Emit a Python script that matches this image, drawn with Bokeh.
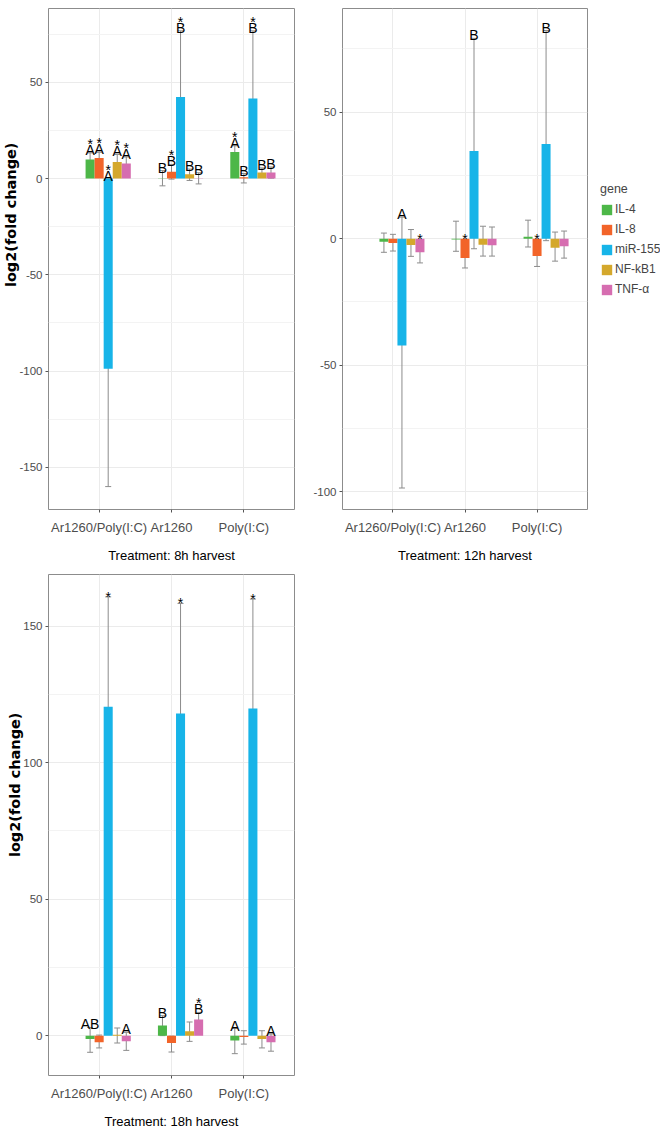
import math
from bokeh.plotting import figure
from bokeh.models import (ColumnDataSource, Range1d, FactorRange, FixedTicker, Whisker,
                          TeeHead, Legend, LegendItem, Title)
from bokeh.transform import dodge
from bokeh.layouts import column, row
from bokeh.core.properties import value
from bokeh.embed import file_html
from bokeh.resources import INLINE

# ---------------- data ----------------
treatments = ["Ar1260/Poly(I:C)", "Ar1260", "Poly(I:C)"]
genes = ["IL-4", "IL-8", "miR-155", "NF-kB1", "TNF-\u03b1"]
colors = ["#4db748", "#f26429", "#17b4e8", "#d4a82c", "#d66db0"]

# 8h harvest (rows: genes, cols: treatments)
h8_mean = [[9.9, 0.2, 13.8], [10.7, 3.5, 0.6], [-98.8, 42.4, 41.5], [8.6, 2.2, 3.1], [7.8, 0.2, 3.1]]
h8_low = [[6.4, -3.8, 10.6], [7.8, -0.3, -2.3], [-160.0, 7.4, 6.0], [4.7, -1.0, 0.7], [4.4, -2.8, 0.2]]
h8_high = [[13.3, 4.1, 17.0], [13.6, 7.3, 2.6], [-35.7, 76.7, 76.7], [12.5, 4.9, 5.5], [11.2, 3.0, 6.0]]
h8_letters = [["A", "B", "A"], ["A", "B", "B"], ["A", "B", "B"], ["A", "B", "B"], ["A", "B", "B"]]
h8_stars = [["*", "", "*"], ["*", "*", ""], ["*", "*", "*"], ["*", "", ""], ["*", "", ""]]

# 12h harvest
h12_mean = [[-1.2, -0.3, 0.7], [-1.7, -7.7, -6.9], [-42.3, 34.7, 37.4], [-2.5, -2.4, -3.6], [-5.4, -2.6, -3.0]]
h12_low = [[-5.4, -5.0, -3.3], [-4.9, -11.6, -11.0], [-98.6, -4.0, -0.8], [-7.0, -6.9, -8.9], [-9.6, -6.9, -7.7]]
h12_high = [[2.2, 6.9, 7.3], [1.7, -3.8, -2.8], [8.5, 79.2, 82.3], [3.6, 4.9, 2.6], [-1.5, 4.6, 3.0]]
h12_letters = [["", "", ""], ["", "", ""], ["A", "B", "B"], ["", "", ""], ["", "", ""]]
h12_stars = [["", "", ""], ["", "*", "*"], ["", "", ""], ["", "", ""], ["*", "", ""]]

# 18h harvest
h18_mean = [[-1.2, 3.7, -1.8], [-2.4, -2.7, -0.5], [120.5, 118.0, 119.8], [0.3, 1.6, -1.2], [-2.1, 5.9, -2.4]]
h18_low = [[-6.1, 0.0, -6.6], [-4.5, -6.0, -3.1], [66.5, 63.7, 66.2], [-2.7, -2.1, -4.5], [-5.4, 2.2, -5.7]]
h18_high = [[3.0, 7.3, 2.6], [0.2, -0.2, 1.8], [160.7, 158.3, 159.9], [2.8, 5.0, 1.8], [1.2, 8.5, 0.6]]
h18_letters = [["AB", "B", "A"], ["", "", ""], ["", "", ""], ["", "", ""], ["A", "B", "A"]]
h18_stars = [["", "", ""], ["", "", ""], ["*", "*", "*"], ["", "", ""], ["", "*", ""]]

y_label = "log2(fold change)"
# --------------------------------------

FONT = "Liberation Sans"
STEP = 0.125
GRAY = "#8c8c8c"


def make_panel(xtitle, mean, low, high, letters, stars, ylim, yticks, yminor,
               width, height, borders):
    p = figure(x_range=FactorRange(factors=treatments, range_padding=0.2,
                                   range_padding_units="absolute"),
               y_range=Range1d(start=ylim[0], end=ylim[1]),
               width=width, height=height,
               min_border_left=borders[0], min_border_right=borders[1],
               min_border_top=borders[2], min_border_bottom=borders[3],
               output_backend="svg", toolbar_location=None)
    p.background_fill_color = "white"
    p.border_fill_color = "white"
    p.outline_line_color = GRAY
    p.outline_line_width = 1
    p.xgrid.grid_line_color = "#ebebeb"
    p.ygrid.grid_line_color = "#ebebeb"
    p.ygrid.minor_grid_line_color = "#f3f3f3"
    p.yaxis.ticker = FixedTicker(ticks=yticks, minor_ticks=yminor)
    p.yaxis.major_label_overrides = {t: str(t) for t in yticks}
    p.axis.axis_line_color = None
    p.axis.major_tick_line_color = "#555555"
    p.axis.major_tick_in = 0
    p.axis.major_tick_out = 3
    p.axis.minor_tick_line_color = None
    p.yaxis.major_label_text_font = FONT
    p.yaxis.major_label_text_font_size = "11.5px"
    p.yaxis.major_label_text_color = "#4d4d4d"
    p.yaxis.major_label_standoff = 2
    p.yaxis.axis_label_standoff = 0
    p.xaxis.major_label_text_font = FONT
    p.xaxis.major_label_text_font_size = "13px"
    p.xaxis.major_label_text_color = "#4d4d4d"
    p.xaxis.major_label_standoff = 7
    p.xaxis.axis_label = xtitle
    p.xaxis.axis_label_text_font = FONT
    p.xaxis.axis_label_text_font_size = "13px"
    p.xaxis.axis_label_text_font_style = "normal"
    p.xaxis.axis_label_text_color = "black"
    p.xaxis.axis_label_standoff = 10

    renderers = []
    for i, g in enumerate(genes):
        off = (i - 1) * STEP
        y0 = [max(h, 0.0) for h in high[i]]
        soff = [-9.0 if letters[i][j] else 0.0 for j in range(3)]
        src = ColumnDataSource(dict(t=treatments, m=mean[i], lo=low[i], hi=high[i],
                                    y0=y0, let=letters[i], star=stars[i], soff=soff))
        r = p.vbar(x=dodge("t", off, range=p.x_range), top="m", bottom=0, width=STEP,
                   source=src, fill_color=colors[i], line_color=None)
        renderers.append(r)
        p.add_layout(Whisker(source=src, base=dodge("t", off, range=p.x_range),
                             upper="hi", lower="lo", line_color=GRAY, line_width=1,
                             upper_head=TeeHead(size=6, line_color=GRAY, line_width=1),
                             lower_head=TeeHead(size=6, line_color=GRAY, line_width=1)))
        p.text(x=dodge("t", off, range=p.x_range), y="y0", text="let", source=src,
               text_font=value(FONT), text_font_size="14px", text_color="black",
               text_align="center", text_baseline="alphabetic", y_offset=-3)
        p.text(x=dodge("t", off, range=p.x_range), y="y0", text="star", source=src,
               text_font=value(FONT), text_font_size="14px", text_color="black",
               text_align="center", text_baseline="alphabetic", y_offset="soff")
    return p, renderers


# panel frames at x 48-294 / 340-587, y 8-509 / 574-1076
p1, _ = make_panel("Treatment: 8h harvest", h8_mean, h8_low, h8_high, h8_letters, h8_stars,
                   (-171.9, 88.3), [-150, -100, -50, 0, 50], [-125, -75, -25, 25, 75],
                   310, 570, (48, 16, 8, 61))
p2, rs2 = make_panel("Treatment: 12h harvest", h12_mean, h12_low, h12_high, h12_letters, h12_stars,
                     (-107.1, 91.0), [-100, -50, 0, 50], [-75, -25, 25, 75],
                     282, 570, (30, 5, 8, 61))
p3, _ = make_panel("Treatment: 18h harvest", h18_mean, h18_low, h18_high, h18_letters, h18_stars,
                   (-14.6, 168.9), [0, 50, 100, 150], [25, 75, 125],
                   310, 561, (48, 16, 4, 55))

for p, off in ((p1, 134), (p3, 138)):
    p.add_layout(Title(text=y_label, align="right", offset=off, standoff=-4,
                       text_font="DejaVu Sans", text_font_style="bold",
                       text_font_size="14.5px", text_color="black"), "left")

# legend lives in its own small canvas to the right of the 12h panel
pl = figure(width=68, height=570, x_range=Range1d(start=0, end=1), y_range=Range1d(start=0, end=1),
            x_axis_location=None, y_axis_location=None, min_border=0,
            output_backend="svg", toolbar_location=None)
pl.outline_line_color = None
pl.grid.visible = False
# degenerate (zero-area) key glyphs: only their legend swatches are visible
key_renderers = [pl.vbar(x=[0.5], top=[0.5], bottom=[0.5], width=0, fill_color=c, line_color=None)
                 for c in colors]
legend = Legend(items=[LegendItem(label=g, renderers=[r]) for g, r in zip(genes, key_renderers)],
                title="gene", location=(8, 213), margin=0, padding=0,
                glyph_width=13, glyph_height=13, label_height=14, spacing=6,
                label_standoff=2, title_standoff=6,
                label_text_font=FONT, label_text_font_size="12px",
                title_text_font=FONT, title_text_font_size="12.5px",
                title_text_font_style="normal",
                border_line_color=None, background_fill_alpha=0)
pl.add_layout(legend, "center")

layout = column(row(p1, p2, pl), p3)
open("out.html", "w").write(file_html(layout, INLINE))
